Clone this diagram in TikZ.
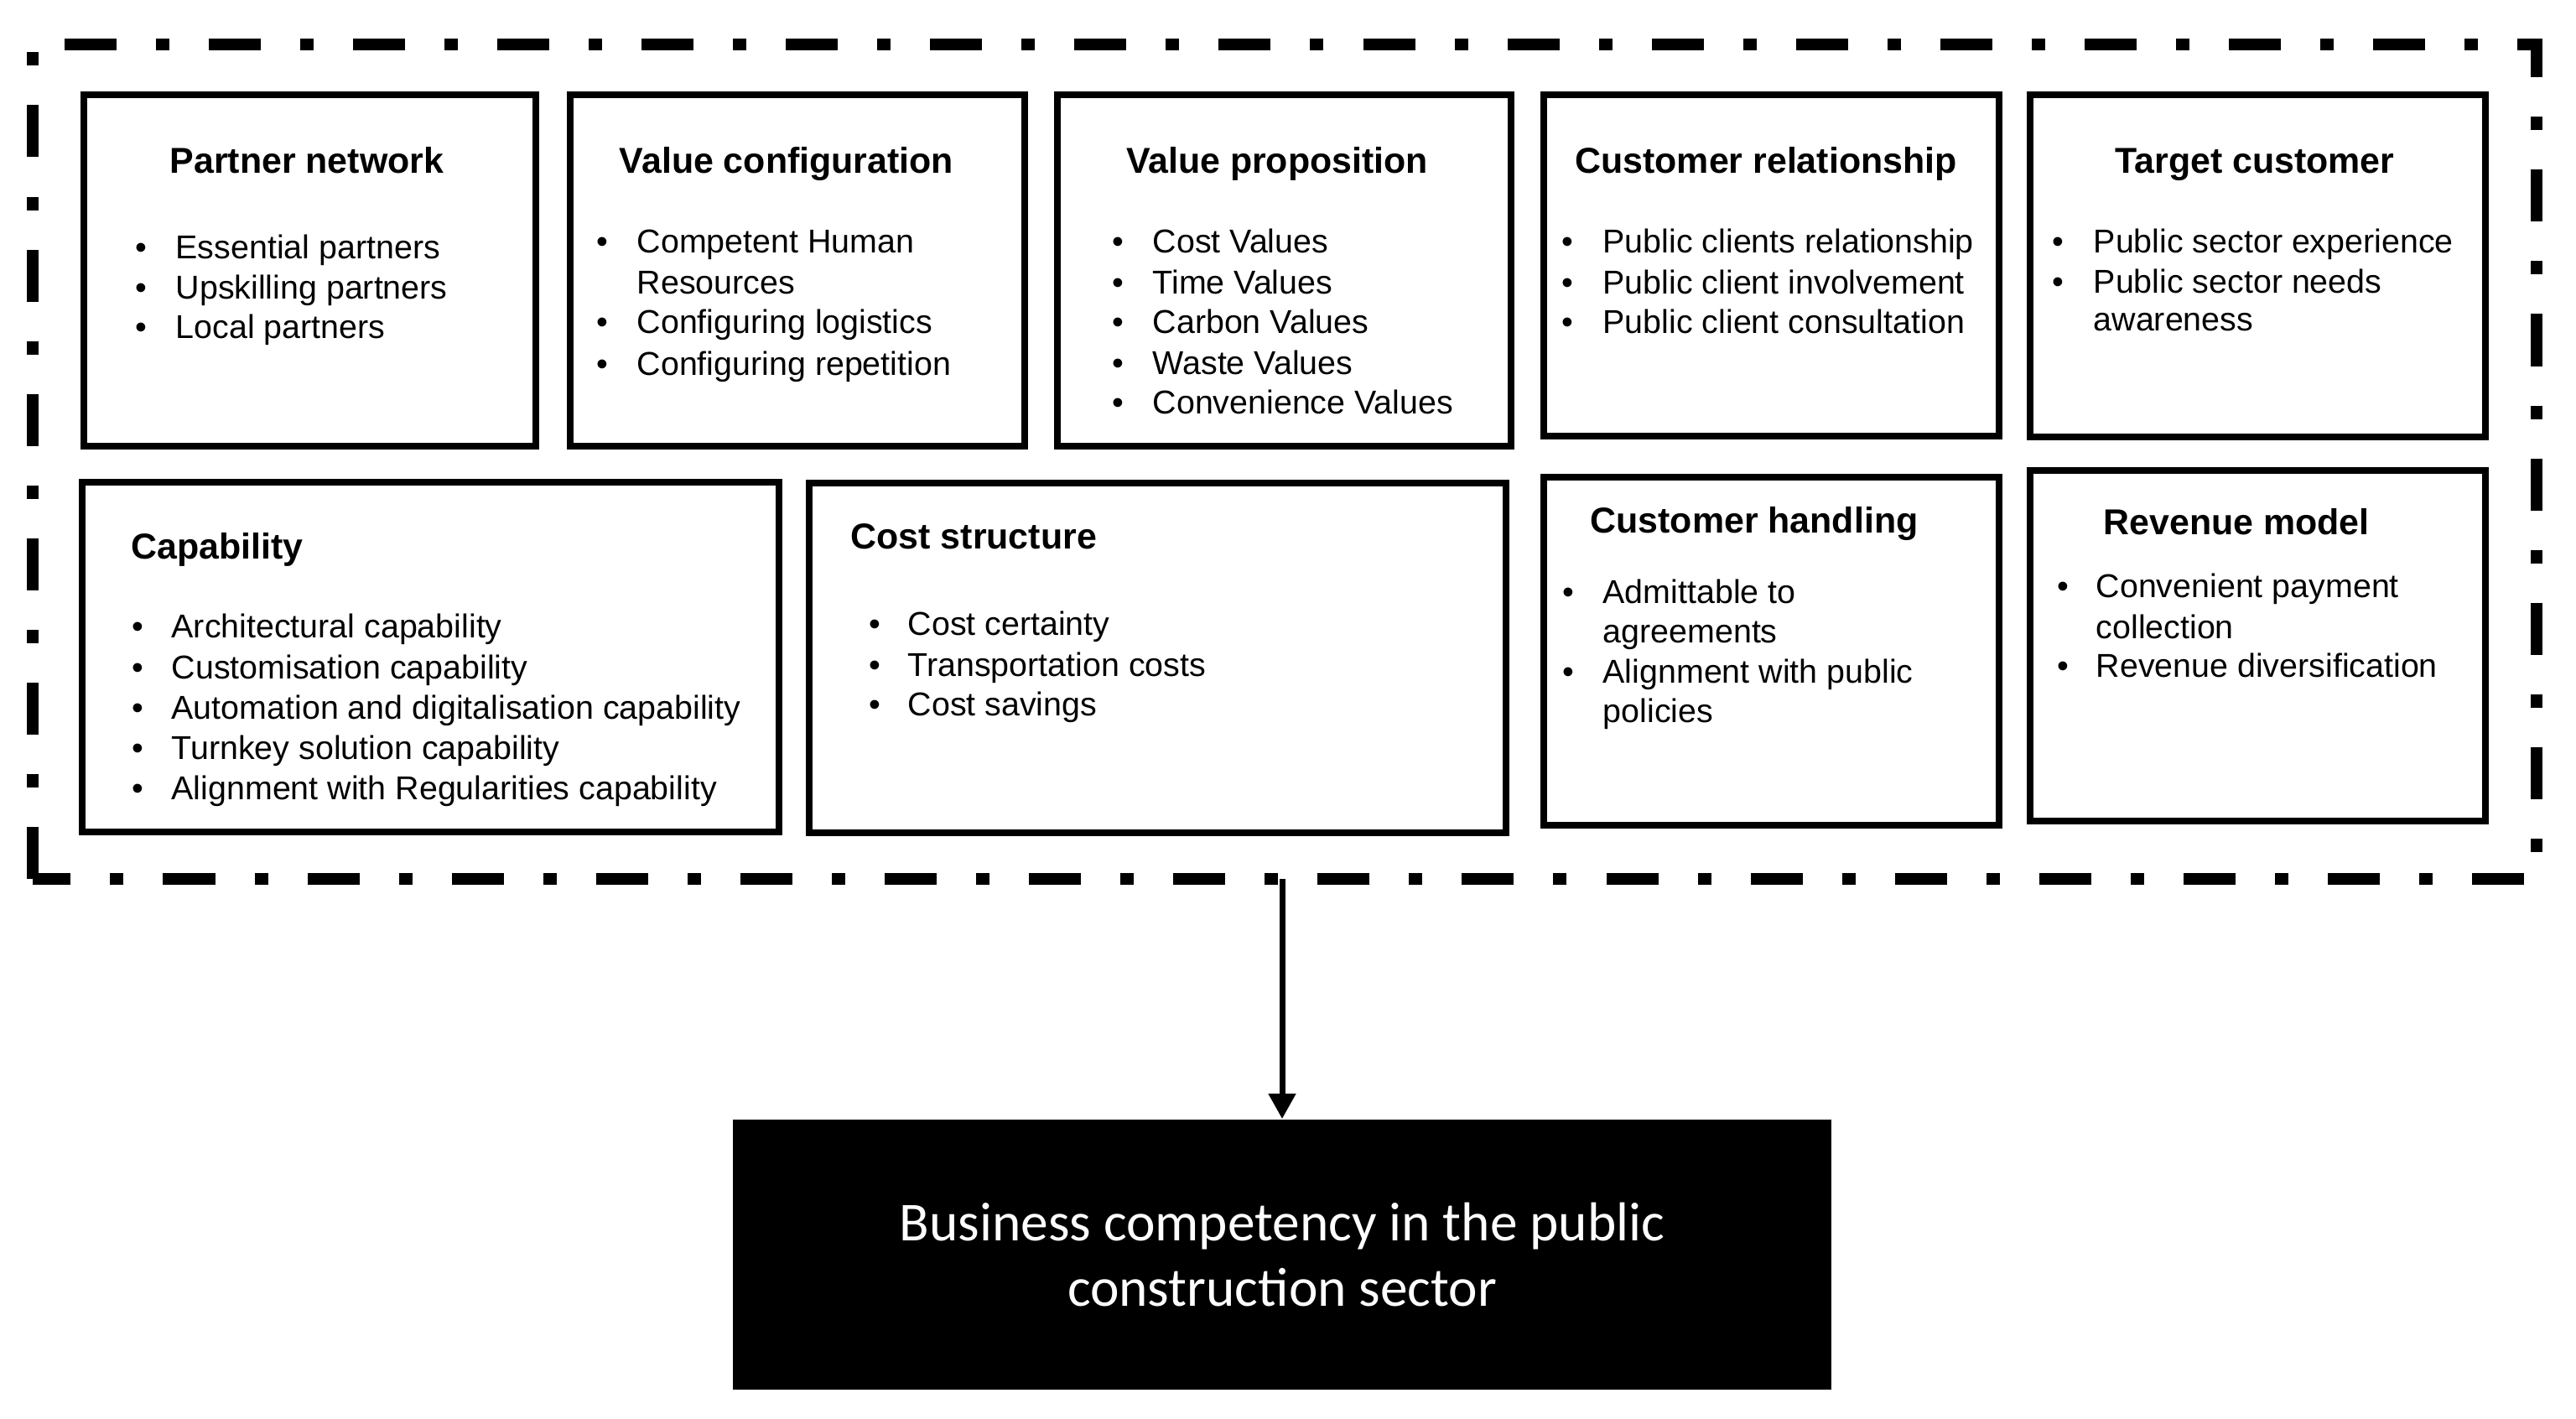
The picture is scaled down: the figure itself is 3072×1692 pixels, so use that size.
\documentclass[tikz,border=0pt]{standalone}
\usepackage{fontspec}
\setmainfont{Liberation Sans}
\newfontfamily\calibfont{Carlito}
\usetikzlibrary{arrows.meta}
\newcommand\bitem[5]{\node[bul] (#1b) at (#2,#4) {\textbullet}; \node[itm] (#1) at (#3,#4) {#5};}
\newcommand\citem[4]{\node[itm] (#1) at (#2,#3) {#4};}
\begin{document}
\begin{tikzpicture}[x=0.01cm,y=-0.01cm,
  blk/.style={draw=black, line width=2.3pt, fill=none, inner sep=0pt, outer sep=0pt},
  frame/.style={draw=black, line width=4pt, dash pattern=on 0.62cm off 0.47cm on 0.16cm off 0.47cm, line join=miter},
  ttl/.style={inner sep=0pt, anchor=base, font=\fontsize{12.2}{14.6}\selectfont\bfseries},
  ttlw/.style={ttl, anchor=base west},
  itm/.style={inner sep=0pt, anchor=base west, font=\fontsize{11.2}{13.6}\selectfont},
  bul/.style={itm},
  goalbox/.style={fill=black, draw=none, inner sep=0pt, text=white, align=center, font=\calibfont\fontsize{18.6}{22.2}\selectfont},
  arr/.style={line width=2pt, -{Triangle[width=0.31cm,length=0.30cm]}}
]
\useasboundingbox (0,0) rectangle (3072,1692);

% outer dash-dot frame
\draw[frame] (39,1048) -- (39,53) -- (3025,53) -- (3025,1048) -- cycle;
\coordinate (fb) at (1529,1048);

% row 1 boxes
\node[blk, minimum width=5.39cm, minimum height=4.19cm] (pn) at (369.5,322.5) {};
\node[blk, minimum width=5.42cm, minimum height=4.19cm] (vc) at (951,322.5) {};
\node[blk, minimum width=5.41cm, minimum height=4.19cm] (vp) at (1531.5,322.5) {};
\node[blk, minimum width=5.43cm, minimum height=4.07cm] (cr) at (2112.5,316.5) {};
\node[blk, minimum width=5.43cm, minimum height=4.08cm] (tc) at (2692.5,317) {};
% row 2 boxes
\node[blk, minimum width=8.31cm, minimum height=4.17cm] (cap) at (513.5,783.5) {};
\node[blk, minimum width=8.31cm, minimum height=4.17cm] (cs) at (1380.5,784.5) {};
\node[blk, minimum width=5.43cm, minimum height=4.15cm] (ch) at (2112.5,776.5) {};
\node[blk, minimum width=5.43cm, minimum height=4.18cm] (rm) at (2692.5,770) {};

% Partner network
\node[ttl] (pnt) at (366,207) {Partner network};
\bitem{pn1}{161}{209}{309}{Essential partners}
\bitem{pn2}{161}{209}{357}{Upskilling partners}
\bitem{pn3}{161}{209}{404}{Local partners}

% Value configuration
\node[ttl] (vct) at (938,207) {Value configuration};
\bitem{vc1}{711}{759}{302}{Competent Human}
\citem{vc1c}{759}{351}{Resources}
\bitem{vc2}{711}{759}{398}{Configuring logistics}
\bitem{vc3}{711}{759}{448}{Configuring repetition}

% Value proposition
\node[ttl] (vpt) at (1523,207) {Value proposition};
\bitem{vp1}{1326}{1374}{302}{Cost Values}
\bitem{vp2}{1326}{1374}{351}{Time Values}
\bitem{vp3}{1326}{1374}{398}{Carbon Values}
\bitem{vp4}{1326}{1374}{447}{Waste Values}
\bitem{vp5}{1326}{1374}{494}{Convenience Values}

% Customer relationship
\node[ttl] (crt) at (2106,207) {Customer relationship};
\bitem{cr1}{1862}{1911}{302}{Public clients relationship}
\bitem{cr2}{1862}{1911}{351}{Public client involvement}
\bitem{cr3}{1862}{1911}{398}{Public client consultation}

% Target customer
\node[ttl] (tct) at (2689,207) {Target customer};
\bitem{tc1}{2447}{2496}{302}{Public sector experience}
\bitem{tc2}{2447}{2496}{350}{Public sector needs}
\citem{tc2c}{2496}{395}{awareness}

% Capability
\node[ttlw] (capt) at (156,667) {Capability};
\bitem{cap1}{157}{204}{761}{Architectural capability}
\bitem{cap2}{157}{204}{810}{Customisation capability}
\bitem{cap3}{157}{204}{858}{Automation and digitalisation capability}
\bitem{cap4}{157}{204}{906}{Turnkey solution capability}
\bitem{cap5}{157}{204}{954}{Alignment with Regularities capability}

% Cost structure
\node[ttlw] (cst) at (1014,655) {Cost structure};
\bitem{cs1}{1036}{1082}{758}{Cost certainty}
\bitem{cs2}{1036}{1082}{807}{Transportation costs}
\bitem{cs3}{1036}{1082}{854}{Cost savings}

% Customer handling
\node[ttl] (cht) at (2092,636) {Customer handling};
\bitem{ch1}{1863}{1911}{720}{Admittable to}
\citem{ch1c}{1911}{767}{agreements}
\bitem{ch2}{1863}{1911}{815}{Alignment with public}
\citem{ch2c}{1911}{862}{policies}

% Revenue model
\node[ttl] (rmt) at (2667,638) {Revenue model};
\bitem{rm1}{2453}{2499}{713}{Convenient payment}
\citem{rm1c}{2499}{762}{collection}
\bitem{rm2}{2453}{2499}{808}{Revenue diversification}

% outcome box
\node[goalbox, minimum width=13.10cm, minimum height=3.22cm] (goal) at (1529,1496) {Business competency in the public\\construction sector};

\draw[arr] (fb) -- (goal.north);
\end{tikzpicture}
\end{document}
